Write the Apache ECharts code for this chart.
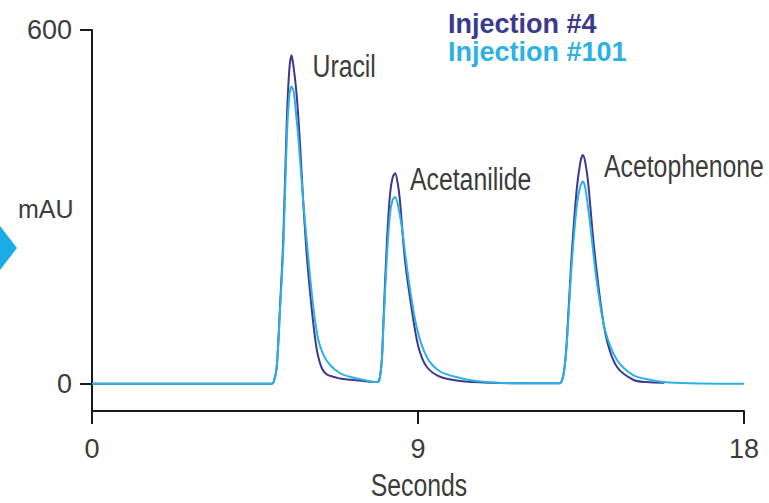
<!DOCTYPE html>
<html>
<head>
<meta charset="utf-8">
<script src="https://cdn.jsdelivr.net/npm/echarts@6/dist/echarts.min.js"></script>
<style>html,body{margin:0;padding:0;background:#fff}#c{width:769px;height:503px}</style>
</head>
<body>
<div id="c"></div>
<script>
// ---- data ----
const seriesNames = ['Injection #4', 'Injection #101'];
const xTickLabels = [0, 9, 18];
const yTickLabels = [0, 600];
const peakNames = ['Uracil', 'Acetanilide', 'Acetophenone'];

const inj4Time = [0, 4.95, 5.02, 5.10, 5.19, 5.28, 5.38, 5.45, 5.51, 5.57, 5.65, 5.74, 5.83, 5.94, 6.07, 6.18, 6.25, 6.35, 6.48, 6.85, 7.12, 7.5, 7.85,
  7.93, 8.00, 8.04, 8.14, 8.23, 8.30, 8.37, 8.44, 8.50, 8.64, 8.83, 9.01, 9.24, 9.61, 10.16, 11, 12, 12.9,
  12.97, 13.04, 13.11, 13.24, 13.38, 13.48, 13.55, 13.62, 13.70, 13.84, 14.03, 14.21, 14.49, 14.94, 15.3, 15.8];
const inj4Value = [0, 0, 4, 29, 130, 244, 450, 535, 557, 535, 490, 410, 310, 210, 125, 68, 45, 26, 16, 9, 7, 5, 3,
  6, 40, 97, 239, 323, 350, 357, 340, 312, 210, 125, 63, 29, 12, 5, 2, 1, 1,
  5, 25, 75, 216, 329, 375, 388, 375, 340, 244, 142, 75, 29, 7, 3, 2];

const inj101Time = [0, 4.95, 5.02, 5.10, 5.19, 5.28, 5.38, 5.45, 5.51, 5.57, 5.63, 5.70, 5.83, 5.97, 6.10, 6.25, 6.40, 6.57, 6.85, 7.12, 7.54, 7.85,
  7.93, 8.00, 8.04, 8.14, 8.23, 8.30, 8.37, 8.44, 8.55, 8.73, 8.96, 9.24, 9.61, 10.16, 10.6, 11.2, 12, 12.9,
  12.97, 13.04, 13.11, 13.24, 13.38, 13.48, 13.55, 13.62, 13.75, 13.93, 14.16, 14.49, 14.94, 15.4, 15.8, 16.5, 18];
const inj101Value = [0, 0, 4, 28, 125, 230, 420, 490, 504, 495, 460, 415, 310, 215, 135, 74, 48, 32, 18, 12, 6, 3,
  6, 38, 90, 215, 290, 312, 317, 305, 267, 182, 97, 46, 21, 10, 5, 2, 1, 1,
  5, 24, 70, 200, 300, 335, 343, 332, 272, 176, 92, 41, 15, 7, 3, 1, 0];

// ---- styling ----
const DARK = '#3b3a8f';
const LIGHT = '#2bb1e6';
const TXT = '#3c3c3c';
const FONT = '"Liberation Sans", Arial, sans-serif';
const NARROW = 0.8;

const pair = (t, v) => t.map((x, i) => [x, v[i]]);
const narrowText = (text, x, y, align) => ({
  type: 'text', x: x, y: y, scaleX: NARROW, silent: true,
  style: { text: text, font: '31px ' + FONT, fill: TXT, textAlign: align || 'left', textVerticalAlign: 'middle' }
});

const chart = echarts.init(document.getElementById('c'), null, { renderer: 'svg' });
chart.setOption({
  animation: false,
  backgroundColor: '#fff',
  grid: { left: 92, right: 25, top: 30, bottom: 92 },
  legend: {
    orient: 'vertical', left: 438, top: 5, itemWidth: 0, itemHeight: 0, itemGap: 1, icon: 'rect',
    selectedMode: false,
    textStyle: { fontFamily: FONT, fontWeight: 'bold', fontSize: 27 },
    data: [
      { name: seriesNames[0], textStyle: { color: DARK } },
      { name: seriesNames[1], textStyle: { color: LIGHT } }
    ]
  },
  xAxis: {
    type: 'value', min: 0, max: 18, interval: 9,
    axisLine: { onZero: false, lineStyle: { color: '#1a1a1a', width: 2 } },
    axisTick: { length: 13, lineStyle: { color: '#1a1a1a', width: 2 } },
    axisLabel: { margin: 24, fontFamily: FONT, fontSize: 27, color: TXT, customValues: xTickLabels },
    splitLine: { show: false }
  },
  yAxis: {
    type: 'value', min: -46, max: 600,
    axisLine: { show: true, onZero: false, lineStyle: { color: '#1a1a1a', width: 2 } },
    axisTick: { show: true, length: 12, customValues: yTickLabels, lineStyle: { color: '#1a1a1a', width: 2 } },
    axisLabel: { margin: 20, fontFamily: FONT, fontSize: 27, color: TXT, customValues: yTickLabels },
    splitLine: { show: false }
  },
  graphic: [
    { type: 'polygon', silent: true, shape: { points: [[0, 226], [17, 248], [0, 270]] }, style: { fill: '#19ace6' } },
    { type: 'text', x: 18, y: 209, silent: true,
      style: { text: 'mAU', font: '25px ' + FONT, fill: TXT, textVerticalAlign: 'middle' } },
    narrowText(peakNames[0], 312.5, 67),
    narrowText(peakNames[1], 410, 180),
    narrowText(peakNames[2], 604, 167),
    narrowText('Seconds', 419, 486, 'center')
  ],
  series: [
    { name: seriesNames[0], type: 'line', data: pair(inj4Time, inj4Value), showSymbol: false,
      smooth: 0.3, lineStyle: { color: DARK, width: 2 }, itemStyle: { color: DARK } },
    { name: seriesNames[1], type: 'line', data: pair(inj101Time, inj101Value), showSymbol: false,
      smooth: 0.3, lineStyle: { color: LIGHT, width: 2 }, itemStyle: { color: LIGHT } }
  ]
});
</script>
</body>
</html>
